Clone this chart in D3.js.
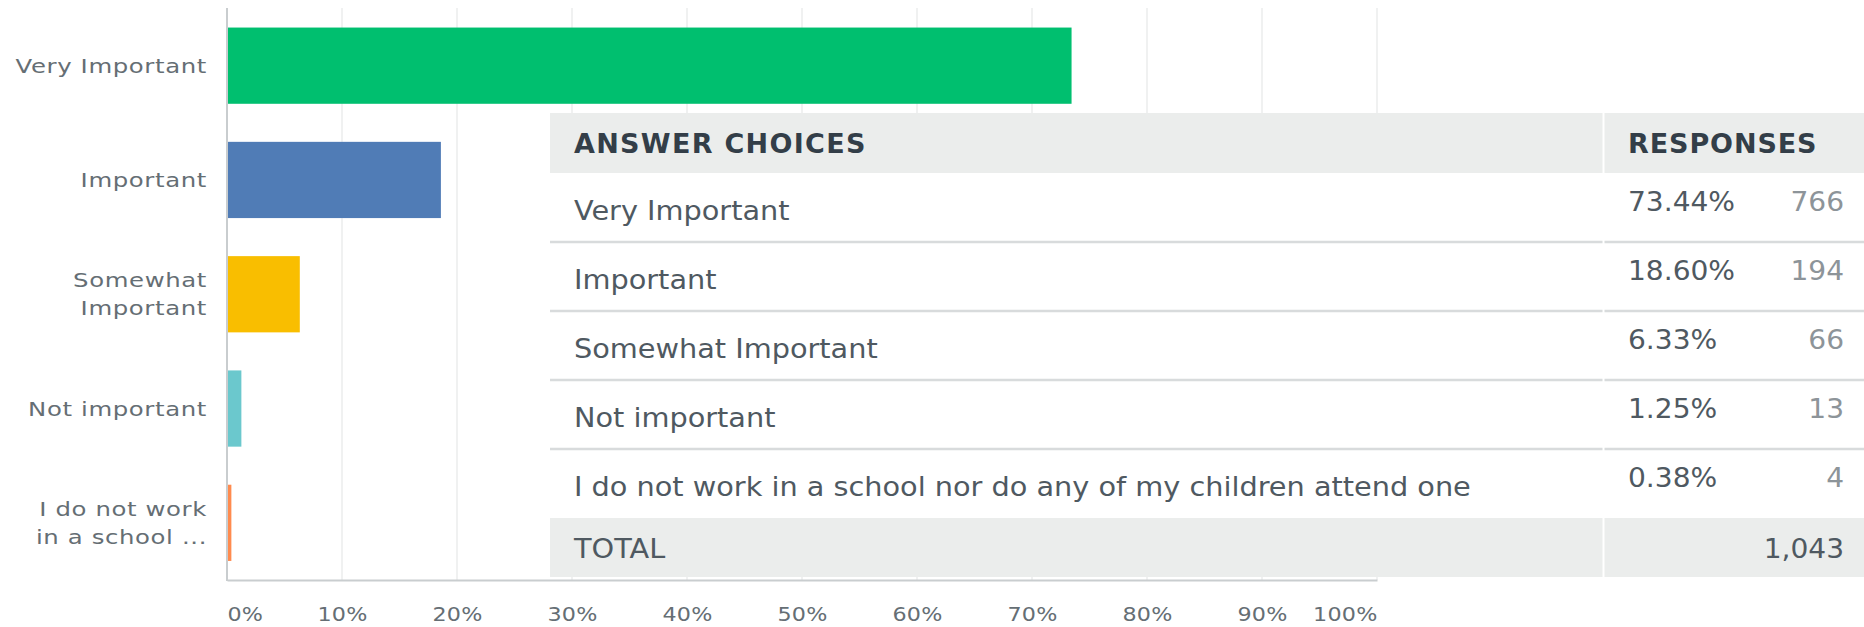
<!DOCTYPE html>
<html>
<head>
<meta charset="utf-8">
<script src="https://cdn.jsdelivr.net/npm/d3@7"></script>
<style>
  body { margin: 0; background: #fff; }
  svg { display: block; font-family: 'DejaVu Sans', sans-serif; }
</style>
</head>
<body>
<div id="chart"></div>
<script>
// answer choices as shown in the table
const choices = [
    'Very Important',
    'Important',
    'Somewhat Important',
    'Not important',
    'I do not work in a school nor do any of my children attend one'
]
// shortened axis labels (wrapped)
const axisLabels = [
    ['Very Important'],
    ['Important'],
    ['Somewhat', 'Important'],
    ['Not important'],
    ['I do not work', 'in a school ...']
]
const percents = [73.44, 18.60, 6.33, 1.25, 0.38]
const counts = [766, 194, 66, 13, 4]
const total = 1043
const barColors = ['#00bf6f', '#507cb6', '#f9be00', '#6bc8cd', '#ff8b4f']
const xTicks = [0, 10, 20, 30, 40, 50, 60, 70, 80, 90, 100]

let width = 1864,
    height = 627

let svg = d3.select('#chart').append('svg')
    .attr('width', width)
    .attr('height', height)

let x = d3.scaleLinear()
    .domain([0, 100])
    .range([227, 1377])

let y = d3.scaleBand()
    .domain(choices)
    .range([8.5, 580])
    .paddingInner(0.333)
    .paddingOuter(0.1667)

// grid lines
svg.append('g')
    .selectAll('line')
    .data(xTicks.slice(1))
    .enter().append('line')
    .attr('x1', d => x(d))
    .attr('x2', d => x(d))
    .attr('y1', 8)
    .attr('y2', 580)
    .attr('stroke', '#ebecec')
    .attr('stroke-width', 1.5)

// bars
svg.append('g')
    .selectAll('rect')
    .data(choices)
    .enter().append('rect')
    .attr('x', x(0))
    .attr('y', d => y(d))
    .attr('width', (d, i) => x(percents[i]) - x(0))
    .attr('height', y.bandwidth())
    .attr('fill', (d, i) => barColors[i])

// axis lines
svg.append('line')
    .attr('x1', x(0)).attr('x2', x(0))
    .attr('y1', 8).attr('y2', 581)
    .attr('stroke', '#c9cdcf').attr('stroke-width', 2)

let xAxis = g => g
    .attr('transform', 'translate(0,580)')
    .call(d3.axisBottom(x).tickValues(xTicks).tickSize(0).tickFormat(d => d + '%'))
    .call(g => g.select('.domain').attr('stroke', '#c9cdcf').attr('stroke-width', 2))
    .call(g => g.selectAll('text')
        .attr('font-family', "'DejaVu Sans', sans-serif")
        .attr('font-size', 19.5)
        .attr('fill', '#656e74')
        .attr('dy', 0)
        .attr('y', 41)
        .attr('letter-spacing', 0.2)
        .attr('transform', 'scale(1.14,1)')
        .attr('text-anchor', (d, i) => i === 0 ? 'start' : (i === xTicks.length - 1 ? 'end' : 'middle')))

svg.append('g').call(xAxis)

// category labels on the left
let labels = svg.append('g')
    .selectAll('text')
    .data(choices)
    .enter().append('text')
    .attr('text-anchor', 'end')
    .attr('font-size', 19.5)
    .attr('letter-spacing', 0.5)
    .attr('fill', '#656e74')
    .attr('transform', d => `translate(207,${y(d) + y.bandwidth() / 2}) scale(1.25,1)`)

labels.each(function (d, i) {
    let lines = axisLabels[i]
    let lh = 28.5
    let start = -(lines.length - 1) * lh / 2 + 7
    d3.select(this).selectAll('tspan')
        .data(lines)
        .enter().append('tspan')
        .attr('x', 0)
        .attr('y', (l, j) => start + j * lh)
        .text(l => l)
})

// summary table
let tLeft = 550,
    tRight = 1864,
    colDiv = 1603.5,
    headTop = 113,
    headH = 60,
    rowH = 69,
    totalH = 59,
    stretch = 1.065

let table = svg.append('g').attr('class', 'table')
let bodyTop = headTop + headH
let totalTop = bodyTop + rowH * choices.length

table.append('rect')
    .attr('x', tLeft).attr('y', headTop)
    .attr('width', tRight - tLeft).attr('height', totalTop + totalH - headTop)
    .attr('fill', '#fff')

// header + total backgrounds, split at the column divider
;[[headTop, headH], [totalTop, totalH]].forEach(r => {
    table.append('rect')
        .attr('x', tLeft).attr('y', r[0])
        .attr('width', colDiv - 1 - tLeft).attr('height', r[1])
        .attr('fill', '#ebedec')
    table.append('rect')
        .attr('x', colDiv + 1).attr('y', r[0])
        .attr('width', tRight - colDiv - 1).attr('height', r[1])
        .attr('fill', '#ebedec')
})

// row separators
d3.range(1, choices.length).forEach(i => {
    let yy = bodyTop + rowH * i
    table.append('line')
        .attr('x1', tLeft).attr('x2', colDiv - 1)
        .attr('y1', yy).attr('y2', yy)
        .attr('stroke', '#d8dbdc').attr('stroke-width', 2.5)
    table.append('line')
        .attr('x1', colDiv + 1).attr('x2', tRight)
        .attr('y1', yy).attr('y2', yy)
        .attr('stroke', '#d8dbdc').attr('stroke-width', 2.5)
})

// helper for table cells, text slightly stretched like the reference
let cell = (tx, ty, txt, opts) => {
    let t = table.append('text')
        .attr('transform', `translate(${tx},${ty}) scale(${opts.stretch || stretch},1)`)
        .attr('font-size', 27)
        .attr('fill', opts.fill || '#4f5961')
        .attr('text-anchor', opts.anchor || 'start')
        .text(txt)
    if (opts.bold) t.attr('font-weight', 'bold')
    if (opts.ls) t.attr('letter-spacing', opts.ls)
    return t
}

cell(574, headTop + 40, 'ANSWER CHOICES', { bold: true, ls: 1.3, stretch: 1, fill: '#333e48' })
cell(1628, headTop + 40, 'RESPONSES', { bold: true, ls: 0.9, stretch: 1, fill: '#333e48' })

choices.forEach((c, i) => {
    let top = bodyTop + rowH * i
    cell(574, top + 47, c, {})
    cell(1628, top + 38, percents[i].toFixed(2) + '%', { stretch: 1.04 })
    cell(1844, top + 38, counts[i], { anchor: 'end', fill: '#8d9499', stretch: 1.04 })
})

cell(574, totalTop + 40, 'TOTAL', {})
cell(1844, totalTop + 40, d3.format(',')(total), { anchor: 'end', stretch: 1.04 })
</script>
</body>
</html>
